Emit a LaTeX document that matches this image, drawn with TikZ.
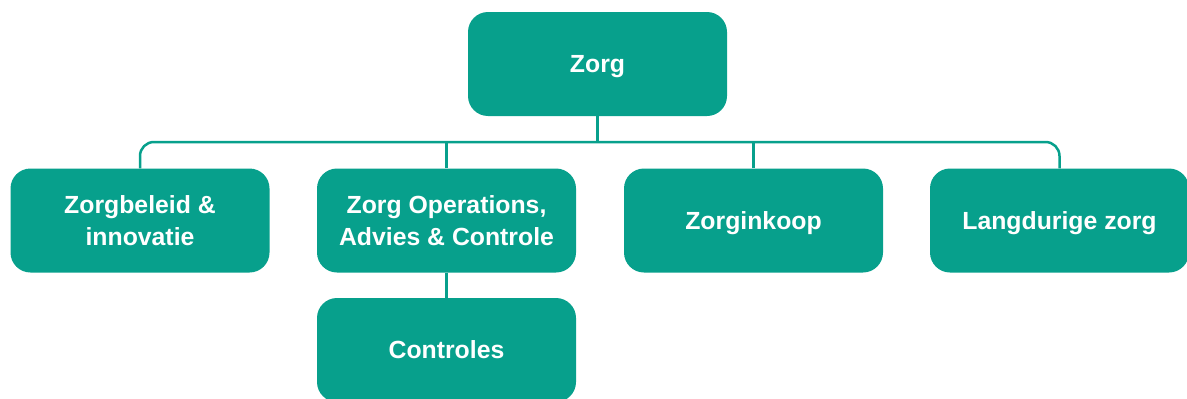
\documentclass[tikz,border=0pt]{standalone}
\usepackage{fontspec}
\setmainfont{Liberation Sans}
\usetikzlibrary{calc}
\definecolor{zorggroen}{HTML}{07A08C}
\tikzset{
	afdeling/.style={fill=zorggroen, rounded corners=20pt, minimum width=259pt, minimum height=104pt,
		text=white, align=center, inner sep=0pt, font=\bfseries\fontsize{24.8}{32}\selectfont},
	eenregel/.style={afdeling, text depth=0pt},
	lijn/.style={draw=zorggroen, line width=2.5pt}
}

\begin{document}
\begin{tikzpicture}[x=1pt, y=-1pt]
		%%%%% START %%%%%
		
		\useasboundingbox (0, 0) rectangle (1187, 399);
		
		\node[eenregel] (zorg) at (597.5, 64) {Zorg};
		
		\node[afdeling] (beleid) at (140, 220.5) {Zorgbeleid \&\\innovatie};
		\node[afdeling] (operations) at (446.5, 220.5) {Zorg Operations,\\Advies \& Controle};
		\node[eenregel] (inkoop) at (753.5, 220.5) {Zorginkoop};
		\node[eenregel] (langdurig) at (1059.5, 220.5) {Langdurige zorg};
		
		\node[eenregel] (controles) at (446.5, 350) {Controles};
		
		\coordinate (bus) at (597.5, 142);
		
		\draw[lijn] (zorg.south) -- (bus);
		\draw[lijn, rounded corners=14pt] (beleid.north) |- (bus) -| (langdurig.north);
		\draw[lijn] (operations.north) -- (operations.north |- bus);
		\draw[lijn] (inkoop.north) -- (inkoop.north |- bus);
		
		\draw[lijn] (operations.south) -- (controles.north);
		
		%%%%% END %%%%%
	\end{tikzpicture}
\end{document}
